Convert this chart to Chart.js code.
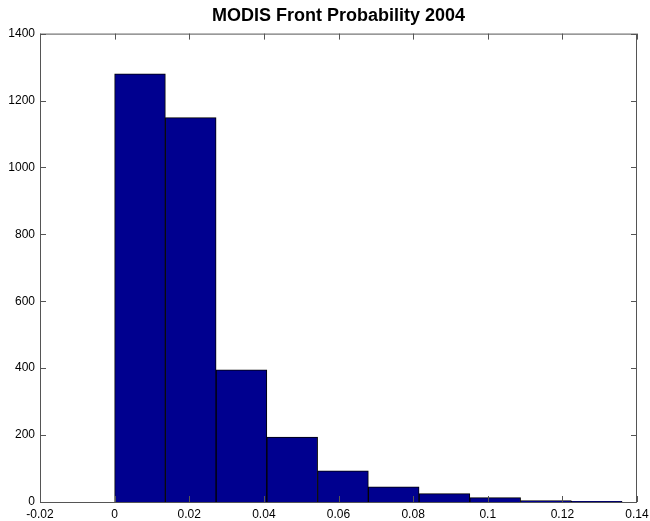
<!DOCTYPE html>
<html>
<head>
<meta charset="utf-8">
<script src="https://cdn.jsdelivr.net/npm/chart.js@4.4.1/dist/chart.umd.min.js"></script>
<style>
  html, body { margin: 0; padding: 0; background: #fff; }
  #wrap { width: 650px; height: 521px; }
</style>
</head>
<body>
<div id="wrap"><canvas id="histChart" width="650" height="521"></canvas></div>
<script>
// bin centres (bin width ~0.01359, from 0 to ~0.1359)
const binCenters = [0.0068, 0.0204, 0.0340, 0.0476, 0.0612, 0.0748, 0.0884, 0.1020, 0.1156, 0.1292];
const counts = [1280, 1149, 395, 194, 93, 45, 25, 13, 4, 2];
const xTicks = [-0.02, 0, 0.02, 0.04, 0.06, 0.08, 0.1, 0.12, 0.14];
const yTicks = [0, 200, 400, 600, 800, 1000, 1200, 1400];

const boxPlugin = {
    id: "matlabBox",
    afterDraw(chart) {
        const { ctx, chartArea: a, scales } = chart;
        ctx.save();
        ctx.strokeStyle = "#555";
        ctx.lineWidth = 1;
        ctx.strokeRect(a.left + 0.5, a.top + 0.5, a.right - a.left - 1, a.bottom - a.top);
        ctx.beginPath();
        xTicks.forEach(v => {
            const px = Math.round(scales.x.getPixelForValue(v)) + 0.5;
            ctx.moveTo(px, a.bottom); ctx.lineTo(px, a.bottom - 6);
            ctx.moveTo(px, a.top); ctx.lineTo(px, a.top + 6);
        });
        yTicks.forEach(v => {
            const py = Math.round(scales.y.getPixelForValue(v)) + 0.5;
            ctx.moveTo(a.left, py); ctx.lineTo(a.left + 6, py);
            ctx.moveTo(a.right, py); ctx.lineTo(a.right - 6, py);
        });
        ctx.stroke();
        ctx.restore();
    }
};

new Chart(document.getElementById("histChart").getContext("2d"), {
    type: "bar",
    data: {
        datasets: [{
            data: binCenters.map((x, i) => ({ x: x, y: counts[i] })),
            backgroundColor: "#00008f",
            borderColor: "#000",
            borderWidth: 1,
            barPercentage: 1,
            categoryPercentage: 1
        }]
    },
    plugins: [boxPlugin],
    options: {
        responsive: false,
        animation: false,
        layout: { padding: { left: 0, right: 0, top: 0, bottom: 0 } },
        plugins: {
            legend: { display: false },
            tooltip: { enabled: false },
            title: {
                display: true,
                text: "MODIS Front Probability 2004",
                fullSize: false,
                color: "#000",
                font: { family: "Liberation Sans, Arial, sans-serif", size: 18, weight: "bold" },
                padding: { top: 5, bottom: 7 }
            }
        },
        scales: {
            x: {
                type: "linear",
                offset: false,
                min: -0.02,
                max: 0.14,
                grid: { display: false, drawTicks: false, offset: false },
                border: { display: false },
                afterBuildTicks: s => { s.ticks = xTicks.map(v => ({ value: v })); },
                afterFit: s => { s.height = 19; s.paddingRight = 13; },
                ticks: {
                    color: "#000",
                    padding: 5,
                    maxRotation: 0,
                    autoSkip: false,
                    font: { family: "Liberation Sans, Arial, sans-serif", size: 12 },
                    callback: v => String(parseFloat(v.toFixed(2)))
                }
            },
            y: {
                min: 0,
                max: 1400,
                grid: { display: false, drawTicks: false },
                border: { display: false },
                afterBuildTicks: s => { s.ticks = yTicks.map(v => ({ value: v })); },
                afterFit: s => { s.width = 40; },
                ticks: {
                    color: "#000",
                    padding: 5,
                    font: { family: "Liberation Sans, Arial, sans-serif", size: 12 },
                    callback: v => String(v)
                }
            }
        }
    }
});
</script>
</body>
</html>
